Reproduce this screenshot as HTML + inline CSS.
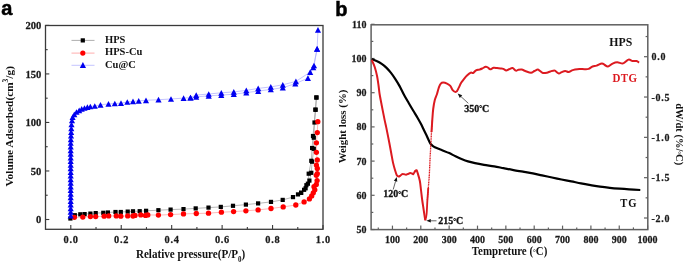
<!DOCTYPE html>
<html><head><meta charset="utf-8"><style>
html,body{margin:0;padding:0;background:#fff;width:685px;height:263px;overflow:hidden}
svg{display:block;filter:blur(0.35px)}
.t{font-family:"Liberation Serif", serif;font-weight:bold;font-size:10px;fill:#1a1a1a;stroke:#1a1a1a;stroke-width:0.25px}
.lg{font-family:"Liberation Serif", serif;font-weight:bold;font-size:10.5px;fill:#111}
.lg2{font-family:"Liberation Serif", serif;font-weight:bold;font-size:11px;fill:#111}
.an{font-family:"Liberation Serif", serif;font-weight:bold;font-size:10px;fill:#111;stroke:#111;stroke-width:0.3px}
.ti{font-family:"Liberation Serif", serif;font-weight:bold;font-size:11.3px;fill:#111}
.lab{font-family:"Liberation Sans",sans-serif;font-weight:bold;font-size:20px;fill:#000;stroke:#000;stroke-width:0.5px}
</style></head><body>
<svg width="685" height="263" viewBox="0 0 685 263">
<rect x="45.5" y="25.5" width="277.5" height="203.8" fill="none" stroke="#3a3a3a" stroke-width="1.3"/>
<line x1="45.5" y1="219.50" x2="49.3" y2="219.50" stroke="#3a3a3a" stroke-width="1.1"/>
<text x="0" y="0" transform="translate(41.3,223.20) scale(1.06,1)" text-anchor="end" class="t">0</text>
<line x1="45.5" y1="195.24" x2="47.7" y2="195.24" stroke="#3a3a3a" stroke-width="1.1"/>
<line x1="45.5" y1="170.97" x2="49.3" y2="170.97" stroke="#3a3a3a" stroke-width="1.1"/>
<text x="0" y="0" transform="translate(41.3,174.67) scale(1.06,1)" text-anchor="end" class="t">50</text>
<line x1="45.5" y1="146.71" x2="47.7" y2="146.71" stroke="#3a3a3a" stroke-width="1.1"/>
<line x1="45.5" y1="122.45" x2="49.3" y2="122.45" stroke="#3a3a3a" stroke-width="1.1"/>
<text x="0" y="0" transform="translate(41.3,126.15) scale(1.06,1)" text-anchor="end" class="t">100</text>
<line x1="45.5" y1="98.19" x2="47.7" y2="98.19" stroke="#3a3a3a" stroke-width="1.1"/>
<line x1="45.5" y1="73.92" x2="49.3" y2="73.92" stroke="#3a3a3a" stroke-width="1.1"/>
<text x="0" y="0" transform="translate(41.3,77.62) scale(1.06,1)" text-anchor="end" class="t">150</text>
<line x1="45.5" y1="49.66" x2="47.7" y2="49.66" stroke="#3a3a3a" stroke-width="1.1"/>
<line x1="45.5" y1="25.40" x2="49.3" y2="25.40" stroke="#3a3a3a" stroke-width="1.1"/>
<text x="0" y="0" transform="translate(41.3,29.10) scale(1.06,1)" text-anchor="end" class="t">200</text>
<line x1="70.80" y1="229.3" x2="70.80" y2="225.10000000000002" stroke="#3a3a3a" stroke-width="1.1"/>
<text x="0" y="0" transform="translate(71.15,243) scale(1,1.09)" text-anchor="middle" class="t" style="font-size:10.4px;letter-spacing:0.7px">0.0</text>
<line x1="96.02" y1="229.3" x2="96.02" y2="227.10000000000002" stroke="#3a3a3a" stroke-width="1.1"/>
<line x1="121.24" y1="229.3" x2="121.24" y2="225.10000000000002" stroke="#3a3a3a" stroke-width="1.1"/>
<text x="0" y="0" transform="translate(121.59,243) scale(1,1.09)" text-anchor="middle" class="t" style="font-size:10.4px;letter-spacing:0.7px">0.2</text>
<line x1="146.46" y1="229.3" x2="146.46" y2="227.10000000000002" stroke="#3a3a3a" stroke-width="1.1"/>
<line x1="171.68" y1="229.3" x2="171.68" y2="225.10000000000002" stroke="#3a3a3a" stroke-width="1.1"/>
<text x="0" y="0" transform="translate(172.03,243) scale(1,1.09)" text-anchor="middle" class="t" style="font-size:10.4px;letter-spacing:0.7px">0.4</text>
<line x1="196.90" y1="229.3" x2="196.90" y2="227.10000000000002" stroke="#3a3a3a" stroke-width="1.1"/>
<line x1="222.12" y1="229.3" x2="222.12" y2="225.10000000000002" stroke="#3a3a3a" stroke-width="1.1"/>
<text x="0" y="0" transform="translate(222.47,243) scale(1,1.09)" text-anchor="middle" class="t" style="font-size:10.4px;letter-spacing:0.7px">0.6</text>
<line x1="247.34" y1="229.3" x2="247.34" y2="227.10000000000002" stroke="#3a3a3a" stroke-width="1.1"/>
<line x1="272.56" y1="229.3" x2="272.56" y2="225.10000000000002" stroke="#3a3a3a" stroke-width="1.1"/>
<text x="0" y="0" transform="translate(272.91,243) scale(1,1.09)" text-anchor="middle" class="t" style="font-size:10.4px;letter-spacing:0.7px">0.8</text>
<line x1="297.78" y1="229.3" x2="297.78" y2="227.10000000000002" stroke="#3a3a3a" stroke-width="1.1"/>
<line x1="323.00" y1="229.3" x2="323.00" y2="225.10000000000002" stroke="#3a3a3a" stroke-width="1.1"/>
<text x="0" y="0" transform="translate(323.35,243) scale(1,1.09)" text-anchor="middle" class="t" style="font-size:10.4px;letter-spacing:0.7px">1.0</text>
<path d="M70.40,218.50 L74.80,215.20 L80.30,214.30 L84.60,214.10 L90.40,213.60 L95.70,213.10 L103.30,212.80 L107.90,212.50 L115.50,212.00 L120.80,212.00 L127.70,211.60 L133.00,211.30 L139.70,211.20 L146.10,210.80 L158.40,210.20 L170.60,209.60 L183.50,209.10 L195.70,208.40 L208.50,207.60 L220.80,206.90 L233.00,205.80 L245.90,204.60 L258.10,203.40 L271.00,201.90 L282.70,199.90 L293.00,197.10 L298.00,194.40 L301.10,192.80 L304.10,189.80 L306.40,185.20 L309.40,180.60 L311.30,172.80 L312.10,161.70 L313.80,148.80 L313.80,137.70 L314.50,122.50 L315.50,109.70 L316.40,97.50" fill="none" stroke="#999" stroke-width="0.7"/>
<path d="M316.40,97.50 L315.50,109.70 L313.00,136.00 L312.10,148.00 L311.30,160.80 L308.70,173.70 L307.90,183.70 L305.60,188.30 L301.10,192.80" fill="none" stroke="#999" stroke-width="0.7"/>
<path d="M74.40,217.30 L82.80,217.10 L90.40,216.60 L95.70,216.60 L104.10,216.20 L108.70,215.90 L116.30,215.90 L120.80,216.20 L127.70,215.90 L133.00,216.00 L135.00,215.40 L140.80,214.90 L145.50,215.40 L147.80,214.90 L158.40,215.10 L170.60,214.60 L183.50,213.90 L196.30,213.50 L208.50,213.20 L221.40,212.20 L233.60,211.60 L245.90,210.80 L258.10,209.90 L271.00,208.50 L283.20,206.90 L295.80,205.00 L304.10,201.90 L309.40,198.90 L311.70,195.90 L313.30,192.80 L314.80,189.80 L316.30,184.40 L317.10,180.60 L317.30,173.70 L317.30,168.50 L317.30,160.00 L316.40,152.30 L316.40,142.80 L317.30,132.60 L317.80,121.70" fill="none" stroke="#f99" stroke-width="0.7"/>
<path d="M70.70,215.60 L70.70,211.97 L70.70,208.34 L70.70,204.71 L70.70,201.08 L70.70,197.45 L70.70,193.82 L70.70,190.19 L70.70,186.56 L70.70,182.93 L70.70,179.30 L70.70,175.67 L70.70,172.04 L70.70,168.41 L70.70,164.78 L70.70,161.15 L70.70,157.52 L70.70,153.89 L70.70,150.26 L70.70,146.63 L70.70,143.00 L70.85,139.37 L71.00,135.74 L71.15,132.11 L71.30,128.48 L71.50,124.50 L72.00,120.50 L72.60,117.10 L74.30,114.30 L76.50,112.00 L79.20,110.30 L81.70,108.80 L84.50,108.00 L87.40,107.10 L90.30,106.50 L94.80,106.00 L100.50,104.80 L108.50,103.90 L114.80,103.50 L121.00,103.10 L127.30,102.00 L133.00,101.40 L138.70,100.80 L146.00,100.30 L158.50,99.70 L171.00,99.00 L183.60,98.10 L190.50,97.60 L196.20,96.90 L208.70,95.80 L221.30,95.10 L233.80,94.20 L246.30,92.60 L258.20,91.10 L270.80,89.40 L282.80,87.70 L295.30,83.70 L307.90,78.20 L313.30,67.50 L317.10,48.80 L318.00,29.90" fill="none" stroke="#aaf" stroke-width="0.7"/>
<path d="M190.50,97.60 L196.20,95.10 L208.70,94.00 L221.30,92.80 L233.80,91.90 L246.30,90.40 L258.20,88.40 L270.80,86.90 L282.80,84.80 L295.90,81.40 L310.20,72.10 L314.00,65.50 L317.10,48.80" fill="none" stroke="#aaf" stroke-width="0.7"/>
<rect x="68.30" y="216.40" width="4.2" height="4.2" fill="#000"/>
<rect x="72.70" y="213.10" width="4.2" height="4.2" fill="#000"/>
<rect x="78.20" y="212.20" width="4.2" height="4.2" fill="#000"/>
<rect x="82.50" y="212.00" width="4.2" height="4.2" fill="#000"/>
<rect x="88.30" y="211.50" width="4.2" height="4.2" fill="#000"/>
<rect x="93.60" y="211.00" width="4.2" height="4.2" fill="#000"/>
<rect x="101.20" y="210.70" width="4.2" height="4.2" fill="#000"/>
<rect x="105.80" y="210.40" width="4.2" height="4.2" fill="#000"/>
<rect x="113.40" y="209.90" width="4.2" height="4.2" fill="#000"/>
<rect x="118.70" y="209.90" width="4.2" height="4.2" fill="#000"/>
<rect x="125.60" y="209.50" width="4.2" height="4.2" fill="#000"/>
<rect x="130.90" y="209.20" width="4.2" height="4.2" fill="#000"/>
<rect x="137.60" y="209.10" width="4.2" height="4.2" fill="#000"/>
<rect x="144.00" y="208.70" width="4.2" height="4.2" fill="#000"/>
<rect x="156.30" y="208.10" width="4.2" height="4.2" fill="#000"/>
<rect x="168.50" y="207.50" width="4.2" height="4.2" fill="#000"/>
<rect x="181.40" y="207.00" width="4.2" height="4.2" fill="#000"/>
<rect x="193.60" y="206.30" width="4.2" height="4.2" fill="#000"/>
<rect x="206.40" y="205.50" width="4.2" height="4.2" fill="#000"/>
<rect x="218.70" y="204.80" width="4.2" height="4.2" fill="#000"/>
<rect x="230.90" y="203.70" width="4.2" height="4.2" fill="#000"/>
<rect x="243.80" y="202.50" width="4.2" height="4.2" fill="#000"/>
<rect x="256.00" y="201.30" width="4.2" height="4.2" fill="#000"/>
<rect x="268.90" y="199.80" width="4.2" height="4.2" fill="#000"/>
<rect x="280.60" y="197.80" width="4.2" height="4.2" fill="#000"/>
<rect x="290.90" y="195.00" width="4.2" height="4.2" fill="#000"/>
<rect x="295.90" y="192.30" width="4.2" height="4.2" fill="#000"/>
<rect x="299.00" y="190.70" width="4.2" height="4.2" fill="#000"/>
<rect x="302.00" y="187.70" width="4.2" height="4.2" fill="#000"/>
<rect x="304.30" y="183.10" width="4.2" height="4.2" fill="#000"/>
<rect x="307.30" y="178.50" width="4.2" height="4.2" fill="#000"/>
<rect x="309.20" y="170.70" width="4.2" height="4.2" fill="#000"/>
<rect x="310.00" y="159.60" width="4.2" height="4.2" fill="#000"/>
<rect x="311.70" y="146.70" width="4.2" height="4.2" fill="#000"/>
<rect x="311.70" y="135.60" width="4.2" height="4.2" fill="#000"/>
<rect x="312.40" y="120.40" width="4.2" height="4.2" fill="#000"/>
<rect x="313.40" y="107.60" width="4.2" height="4.2" fill="#000"/>
<rect x="314.30" y="95.40" width="4.2" height="4.2" fill="#000"/>
<rect x="314.30" y="95.40" width="4.2" height="4.2" fill="#000"/>
<rect x="313.40" y="107.60" width="4.2" height="4.2" fill="#000"/>
<rect x="310.90" y="133.90" width="4.2" height="4.2" fill="#000"/>
<rect x="310.00" y="145.90" width="4.2" height="4.2" fill="#000"/>
<rect x="309.20" y="158.70" width="4.2" height="4.2" fill="#000"/>
<rect x="306.60" y="171.60" width="4.2" height="4.2" fill="#000"/>
<rect x="305.80" y="181.60" width="4.2" height="4.2" fill="#000"/>
<rect x="303.50" y="186.20" width="4.2" height="4.2" fill="#000"/>
<rect x="299.00" y="190.70" width="4.2" height="4.2" fill="#000"/>
<circle cx="74.40" cy="217.30" r="2.65" fill="#f00"/>
<circle cx="82.80" cy="217.10" r="2.65" fill="#f00"/>
<circle cx="90.40" cy="216.60" r="2.65" fill="#f00"/>
<circle cx="95.70" cy="216.60" r="2.65" fill="#f00"/>
<circle cx="104.10" cy="216.20" r="2.65" fill="#f00"/>
<circle cx="108.70" cy="215.90" r="2.65" fill="#f00"/>
<circle cx="116.30" cy="215.90" r="2.65" fill="#f00"/>
<circle cx="120.80" cy="216.20" r="2.65" fill="#f00"/>
<circle cx="127.70" cy="215.90" r="2.65" fill="#f00"/>
<circle cx="133.00" cy="216.00" r="2.65" fill="#f00"/>
<circle cx="135.00" cy="215.40" r="2.65" fill="#f00"/>
<circle cx="140.80" cy="214.90" r="2.65" fill="#f00"/>
<circle cx="145.50" cy="215.40" r="2.65" fill="#f00"/>
<circle cx="147.80" cy="214.90" r="2.65" fill="#f00"/>
<circle cx="158.40" cy="215.10" r="2.65" fill="#f00"/>
<circle cx="170.60" cy="214.60" r="2.65" fill="#f00"/>
<circle cx="183.50" cy="213.90" r="2.65" fill="#f00"/>
<circle cx="196.30" cy="213.50" r="2.65" fill="#f00"/>
<circle cx="208.50" cy="213.20" r="2.65" fill="#f00"/>
<circle cx="221.40" cy="212.20" r="2.65" fill="#f00"/>
<circle cx="233.60" cy="211.60" r="2.65" fill="#f00"/>
<circle cx="245.90" cy="210.80" r="2.65" fill="#f00"/>
<circle cx="258.10" cy="209.90" r="2.65" fill="#f00"/>
<circle cx="271.00" cy="208.50" r="2.65" fill="#f00"/>
<circle cx="283.20" cy="206.90" r="2.65" fill="#f00"/>
<circle cx="295.80" cy="205.00" r="2.65" fill="#f00"/>
<circle cx="304.10" cy="201.90" r="2.65" fill="#f00"/>
<circle cx="309.40" cy="198.90" r="2.65" fill="#f00"/>
<circle cx="311.70" cy="195.90" r="2.65" fill="#f00"/>
<circle cx="313.30" cy="192.80" r="2.65" fill="#f00"/>
<circle cx="314.80" cy="189.80" r="2.65" fill="#f00"/>
<circle cx="316.30" cy="184.40" r="2.65" fill="#f00"/>
<circle cx="317.10" cy="180.60" r="2.65" fill="#f00"/>
<circle cx="317.30" cy="173.70" r="2.65" fill="#f00"/>
<circle cx="317.30" cy="168.50" r="2.65" fill="#f00"/>
<circle cx="317.30" cy="160.00" r="2.65" fill="#f00"/>
<circle cx="316.40" cy="152.30" r="2.65" fill="#f00"/>
<circle cx="316.40" cy="142.80" r="2.65" fill="#f00"/>
<circle cx="317.30" cy="132.60" r="2.65" fill="#f00"/>
<circle cx="317.80" cy="121.70" r="2.65" fill="#f00"/>
<circle cx="314.00" cy="186.70" r="2.65" fill="#f00"/>
<circle cx="316.30" cy="175.30" r="2.65" fill="#f00"/>
<circle cx="316.40" cy="165.10" r="2.65" fill="#f00"/>
<path d="M70.70,212.73 L73.75,218.47 L67.65,218.47Z" fill="#0000f0"/>
<path d="M70.70,209.10 L73.75,214.84 L67.65,214.84Z" fill="#0000f0"/>
<path d="M70.70,205.47 L73.75,211.21 L67.65,211.21Z" fill="#0000f0"/>
<path d="M70.70,201.84 L73.75,207.58 L67.65,207.58Z" fill="#0000f0"/>
<path d="M70.70,198.21 L73.75,203.95 L67.65,203.95Z" fill="#0000f0"/>
<path d="M70.70,194.58 L73.75,200.32 L67.65,200.32Z" fill="#0000f0"/>
<path d="M70.70,190.95 L73.75,196.69 L67.65,196.69Z" fill="#0000f0"/>
<path d="M70.70,187.32 L73.75,193.06 L67.65,193.06Z" fill="#0000f0"/>
<path d="M70.70,183.69 L73.75,189.43 L67.65,189.43Z" fill="#0000f0"/>
<path d="M70.70,180.06 L73.75,185.80 L67.65,185.80Z" fill="#0000f0"/>
<path d="M70.70,176.43 L73.75,182.17 L67.65,182.17Z" fill="#0000f0"/>
<path d="M70.70,172.80 L73.75,178.54 L67.65,178.54Z" fill="#0000f0"/>
<path d="M70.70,169.17 L73.75,174.91 L67.65,174.91Z" fill="#0000f0"/>
<path d="M70.70,165.54 L73.75,171.28 L67.65,171.28Z" fill="#0000f0"/>
<path d="M70.70,161.91 L73.75,167.65 L67.65,167.65Z" fill="#0000f0"/>
<path d="M70.70,158.28 L73.75,164.02 L67.65,164.02Z" fill="#0000f0"/>
<path d="M70.70,154.65 L73.75,160.39 L67.65,160.39Z" fill="#0000f0"/>
<path d="M70.70,151.02 L73.75,156.76 L67.65,156.76Z" fill="#0000f0"/>
<path d="M70.70,147.39 L73.75,153.13 L67.65,153.13Z" fill="#0000f0"/>
<path d="M70.70,143.76 L73.75,149.50 L67.65,149.50Z" fill="#0000f0"/>
<path d="M70.70,140.13 L73.75,145.87 L67.65,145.87Z" fill="#0000f0"/>
<path d="M70.85,136.50 L73.90,142.24 L67.80,142.24Z" fill="#0000f0"/>
<path d="M71.00,132.87 L74.05,138.61 L67.95,138.61Z" fill="#0000f0"/>
<path d="M71.15,129.24 L74.20,134.98 L68.10,134.98Z" fill="#0000f0"/>
<path d="M71.30,125.61 L74.35,131.35 L68.25,131.35Z" fill="#0000f0"/>
<path d="M71.50,121.63 L74.55,127.37 L68.45,127.37Z" fill="#0000f0"/>
<path d="M72.00,117.63 L75.05,123.37 L68.95,123.37Z" fill="#0000f0"/>
<path d="M72.60,114.23 L75.65,119.97 L69.55,119.97Z" fill="#0000f0"/>
<path d="M74.30,111.43 L77.35,117.17 L71.25,117.17Z" fill="#0000f0"/>
<path d="M76.50,109.13 L79.55,114.87 L73.45,114.87Z" fill="#0000f0"/>
<path d="M79.20,107.43 L82.25,113.17 L76.15,113.17Z" fill="#0000f0"/>
<path d="M81.70,105.93 L84.75,111.67 L78.65,111.67Z" fill="#0000f0"/>
<path d="M84.50,105.13 L87.55,110.87 L81.45,110.87Z" fill="#0000f0"/>
<path d="M87.40,104.23 L90.45,109.97 L84.35,109.97Z" fill="#0000f0"/>
<path d="M90.30,103.63 L93.35,109.37 L87.25,109.37Z" fill="#0000f0"/>
<path d="M94.80,103.13 L97.85,108.87 L91.75,108.87Z" fill="#0000f0"/>
<path d="M100.50,101.93 L103.55,107.67 L97.45,107.67Z" fill="#0000f0"/>
<path d="M108.50,101.03 L111.55,106.77 L105.45,106.77Z" fill="#0000f0"/>
<path d="M114.80,100.63 L117.85,106.37 L111.75,106.37Z" fill="#0000f0"/>
<path d="M121.00,100.23 L124.05,105.97 L117.95,105.97Z" fill="#0000f0"/>
<path d="M127.30,99.13 L130.35,104.87 L124.25,104.87Z" fill="#0000f0"/>
<path d="M133.00,98.53 L136.05,104.27 L129.95,104.27Z" fill="#0000f0"/>
<path d="M138.70,97.93 L141.75,103.67 L135.65,103.67Z" fill="#0000f0"/>
<path d="M146.00,97.43 L149.05,103.17 L142.95,103.17Z" fill="#0000f0"/>
<path d="M158.50,96.83 L161.55,102.57 L155.45,102.57Z" fill="#0000f0"/>
<path d="M171.00,96.13 L174.05,101.87 L167.95,101.87Z" fill="#0000f0"/>
<path d="M183.60,95.23 L186.65,100.97 L180.55,100.97Z" fill="#0000f0"/>
<path d="M190.50,94.73 L193.55,100.47 L187.45,100.47Z" fill="#0000f0"/>
<path d="M196.20,94.03 L199.25,99.77 L193.15,99.77Z" fill="#0000f0"/>
<path d="M208.70,92.93 L211.75,98.67 L205.65,98.67Z" fill="#0000f0"/>
<path d="M221.30,92.23 L224.35,97.97 L218.25,97.97Z" fill="#0000f0"/>
<path d="M233.80,91.33 L236.85,97.07 L230.75,97.07Z" fill="#0000f0"/>
<path d="M246.30,89.73 L249.35,95.47 L243.25,95.47Z" fill="#0000f0"/>
<path d="M258.20,88.23 L261.25,93.97 L255.15,93.97Z" fill="#0000f0"/>
<path d="M270.80,86.53 L273.85,92.27 L267.75,92.27Z" fill="#0000f0"/>
<path d="M282.80,84.83 L285.85,90.57 L279.75,90.57Z" fill="#0000f0"/>
<path d="M295.30,80.83 L298.35,86.57 L292.25,86.57Z" fill="#0000f0"/>
<path d="M307.90,75.33 L310.95,81.07 L304.85,81.07Z" fill="#0000f0"/>
<path d="M313.30,64.63 L316.35,70.37 L310.25,70.37Z" fill="#0000f0"/>
<path d="M317.10,45.93 L320.15,51.67 L314.05,51.67Z" fill="#0000f0"/>
<path d="M318.00,27.03 L321.05,32.77 L314.95,32.77Z" fill="#0000f0"/>
<path d="M190.50,94.73 L193.55,100.47 L187.45,100.47Z" fill="#0000f0"/>
<path d="M196.20,92.23 L199.25,97.97 L193.15,97.97Z" fill="#0000f0"/>
<path d="M208.70,91.13 L211.75,96.87 L205.65,96.87Z" fill="#0000f0"/>
<path d="M221.30,89.93 L224.35,95.67 L218.25,95.67Z" fill="#0000f0"/>
<path d="M233.80,89.03 L236.85,94.77 L230.75,94.77Z" fill="#0000f0"/>
<path d="M246.30,87.53 L249.35,93.27 L243.25,93.27Z" fill="#0000f0"/>
<path d="M258.20,85.53 L261.25,91.27 L255.15,91.27Z" fill="#0000f0"/>
<path d="M270.80,84.03 L273.85,89.77 L267.75,89.77Z" fill="#0000f0"/>
<path d="M282.80,81.93 L285.85,87.67 L279.75,87.67Z" fill="#0000f0"/>
<path d="M295.90,78.53 L298.95,84.27 L292.85,84.27Z" fill="#0000f0"/>
<path d="M310.20,69.23 L313.25,74.97 L307.15,74.97Z" fill="#0000f0"/>
<path d="M314.00,62.63 L317.05,68.37 L310.95,68.37Z" fill="#0000f0"/>
<path d="M317.10,45.93 L320.15,51.67 L314.05,51.67Z" fill="#0000f0"/>
<line x1="71.5" y1="40.4" x2="94.5" y2="40.4" stroke="#999" stroke-width="0.8"/>
<rect x="80.70" y="38.30" width="4.2" height="4.2" fill="#000"/>
<line x1="71.5" y1="53.1" x2="94.5" y2="53.1" stroke="#f99" stroke-width="0.8"/>
<circle cx="82.80" cy="53.10" r="2.6" fill="#f00"/>
<line x1="71.5" y1="65.3" x2="94.5" y2="65.3" stroke="#aaf" stroke-width="0.7"/>
<path d="M82.90,62.09 L86.00,67.91 L79.80,67.91Z" fill="#0000f0"/>
<text x="105" y="43.3" class="lg">HPS</text>
<text x="105" y="55.4" class="lg">HPS-Cu</text>
<text x="105" y="67.9" class="lg">Cu@C</text>
<text x="0" y="0" transform="translate(12.6,126.3) rotate(-90)" text-anchor="middle" class="ti">Volume Adsorbed(cm<tspan dy="-5" font-size="7.5">3</tspan><tspan dy="5">/g)</tspan></text>
<text x="0" y="0" transform="translate(190.6,257.9) scale(1,1.1)" text-anchor="middle" class="ti" style="font-size:11.1px">Relative pressure(P/P<tspan dy="3.8" font-size="7">0</tspan><tspan dy="-3.8">)</tspan></text>
<text x="1.3" y="15.2" class="lab">a</text>
<rect x="371.1" y="24.8" width="276.69999999999993" height="204.79999999999998" fill="none" stroke="#606060" stroke-width="1.5"/>
<line x1="371.1" y1="229.50" x2="374.6" y2="229.50" stroke="#606060" stroke-width="1.2"/>
<text x="0" y="0" transform="translate(366.5,233.00) scale(1,1.09)" text-anchor="end" class="t">50</text>
<line x1="371.1" y1="212.40" x2="373.3" y2="212.40" stroke="#606060" stroke-width="1.2"/>
<line x1="371.1" y1="195.30" x2="374.6" y2="195.30" stroke="#606060" stroke-width="1.2"/>
<text x="0" y="0" transform="translate(366.5,198.80) scale(1,1.09)" text-anchor="end" class="t">60</text>
<line x1="371.1" y1="178.20" x2="373.3" y2="178.20" stroke="#606060" stroke-width="1.2"/>
<line x1="371.1" y1="161.10" x2="374.6" y2="161.10" stroke="#606060" stroke-width="1.2"/>
<text x="0" y="0" transform="translate(366.5,164.60) scale(1,1.09)" text-anchor="end" class="t">70</text>
<line x1="371.1" y1="144.00" x2="373.3" y2="144.00" stroke="#606060" stroke-width="1.2"/>
<line x1="371.1" y1="126.90" x2="374.6" y2="126.90" stroke="#606060" stroke-width="1.2"/>
<text x="0" y="0" transform="translate(366.5,130.40) scale(1,1.09)" text-anchor="end" class="t">80</text>
<line x1="371.1" y1="109.80" x2="373.3" y2="109.80" stroke="#606060" stroke-width="1.2"/>
<line x1="371.1" y1="92.70" x2="374.6" y2="92.70" stroke="#606060" stroke-width="1.2"/>
<text x="0" y="0" transform="translate(366.5,96.20) scale(1,1.09)" text-anchor="end" class="t">90</text>
<line x1="371.1" y1="75.60" x2="373.3" y2="75.60" stroke="#606060" stroke-width="1.2"/>
<line x1="371.1" y1="58.50" x2="374.6" y2="58.50" stroke="#606060" stroke-width="1.2"/>
<text x="0" y="0" transform="translate(366.5,62.00) scale(1,1.09)" text-anchor="end" class="t">100</text>
<line x1="371.1" y1="41.40" x2="373.3" y2="41.40" stroke="#606060" stroke-width="1.2"/>
<line x1="371.1" y1="24.30" x2="374.6" y2="24.30" stroke="#606060" stroke-width="1.2"/>
<text x="0" y="0" transform="translate(366.5,27.80) scale(1,1.09)" text-anchor="end" class="t">110</text>
<line x1="378.28" y1="229.6" x2="378.28" y2="227.4" stroke="#606060" stroke-width="1.2"/>
<line x1="392.45" y1="229.6" x2="392.45" y2="225.6" stroke="#606060" stroke-width="1.2"/>
<text x="0" y="0" transform="translate(392.45,242.5) scale(1,1.09)" text-anchor="middle" class="t">100</text>
<line x1="406.62" y1="229.6" x2="406.62" y2="227.4" stroke="#606060" stroke-width="1.2"/>
<line x1="420.80" y1="229.6" x2="420.80" y2="225.6" stroke="#606060" stroke-width="1.2"/>
<text x="0" y="0" transform="translate(420.80,242.5) scale(1,1.09)" text-anchor="middle" class="t">200</text>
<line x1="434.98" y1="229.6" x2="434.98" y2="227.4" stroke="#606060" stroke-width="1.2"/>
<line x1="449.15" y1="229.6" x2="449.15" y2="225.6" stroke="#606060" stroke-width="1.2"/>
<text x="0" y="0" transform="translate(449.15,242.5) scale(1,1.09)" text-anchor="middle" class="t">300</text>
<line x1="463.33" y1="229.6" x2="463.33" y2="227.4" stroke="#606060" stroke-width="1.2"/>
<line x1="477.50" y1="229.6" x2="477.50" y2="225.6" stroke="#606060" stroke-width="1.2"/>
<text x="0" y="0" transform="translate(477.50,242.5) scale(1,1.09)" text-anchor="middle" class="t">400</text>
<line x1="491.68" y1="229.6" x2="491.68" y2="227.4" stroke="#606060" stroke-width="1.2"/>
<line x1="505.85" y1="229.6" x2="505.85" y2="225.6" stroke="#606060" stroke-width="1.2"/>
<text x="0" y="0" transform="translate(505.85,242.5) scale(1,1.09)" text-anchor="middle" class="t">500</text>
<line x1="520.02" y1="229.6" x2="520.02" y2="227.4" stroke="#606060" stroke-width="1.2"/>
<line x1="534.20" y1="229.6" x2="534.20" y2="225.6" stroke="#606060" stroke-width="1.2"/>
<text x="0" y="0" transform="translate(534.20,242.5) scale(1,1.09)" text-anchor="middle" class="t">600</text>
<line x1="548.38" y1="229.6" x2="548.38" y2="227.4" stroke="#606060" stroke-width="1.2"/>
<line x1="562.55" y1="229.6" x2="562.55" y2="225.6" stroke="#606060" stroke-width="1.2"/>
<text x="0" y="0" transform="translate(562.55,242.5) scale(1,1.09)" text-anchor="middle" class="t">700</text>
<line x1="576.73" y1="229.6" x2="576.73" y2="227.4" stroke="#606060" stroke-width="1.2"/>
<line x1="590.90" y1="229.6" x2="590.90" y2="225.6" stroke="#606060" stroke-width="1.2"/>
<text x="0" y="0" transform="translate(590.90,242.5) scale(1,1.09)" text-anchor="middle" class="t">800</text>
<line x1="605.08" y1="229.6" x2="605.08" y2="227.4" stroke="#606060" stroke-width="1.2"/>
<line x1="619.25" y1="229.6" x2="619.25" y2="225.6" stroke="#606060" stroke-width="1.2"/>
<text x="0" y="0" transform="translate(619.25,242.5) scale(1,1.09)" text-anchor="middle" class="t">900</text>
<line x1="633.42" y1="229.6" x2="633.42" y2="227.4" stroke="#606060" stroke-width="1.2"/>
<line x1="647.60" y1="229.6" x2="647.60" y2="225.6" stroke="#606060" stroke-width="1.2"/>
<text x="0" y="0" transform="translate(647.60,242.5) scale(1,1.09)" text-anchor="middle" class="t">1000</text>
<line x1="647.8" y1="218.00" x2="644.0" y2="218.00" stroke="#606060" stroke-width="1.2"/>
<text x="0" y="0" transform="translate(651.5,221.50) scale(1,1.09)" class="t" style="letter-spacing:0.7px">-2.0</text>
<line x1="647.8" y1="197.84" x2="645.5999999999999" y2="197.84" stroke="#606060" stroke-width="1.2"/>
<line x1="647.8" y1="177.68" x2="644.0" y2="177.68" stroke="#606060" stroke-width="1.2"/>
<text x="0" y="0" transform="translate(651.5,181.18) scale(1,1.09)" class="t" style="letter-spacing:0.7px">-1.5</text>
<line x1="647.8" y1="157.51" x2="645.5999999999999" y2="157.51" stroke="#606060" stroke-width="1.2"/>
<line x1="647.8" y1="137.35" x2="644.0" y2="137.35" stroke="#606060" stroke-width="1.2"/>
<text x="0" y="0" transform="translate(651.5,140.85) scale(1,1.09)" class="t" style="letter-spacing:0.7px">-1.0</text>
<line x1="647.8" y1="117.19" x2="645.5999999999999" y2="117.19" stroke="#606060" stroke-width="1.2"/>
<line x1="647.8" y1="97.03" x2="644.0" y2="97.03" stroke="#606060" stroke-width="1.2"/>
<text x="0" y="0" transform="translate(651.5,100.53) scale(1,1.09)" class="t" style="letter-spacing:0.7px">-0.5</text>
<line x1="647.8" y1="76.86" x2="645.5999999999999" y2="76.86" stroke="#606060" stroke-width="1.2"/>
<line x1="647.8" y1="56.70" x2="644.0" y2="56.70" stroke="#606060" stroke-width="1.2"/>
<text x="0" y="0" transform="translate(651.5,60.20) scale(1,1.09)" class="t" style="letter-spacing:0.7px">0.0</text>
<line x1="647.8" y1="36.54" x2="645.5999999999999" y2="36.54" stroke="#606060" stroke-width="1.2"/>
<path d="M371.70,59.10 C372.60,59.45 375.43,60.42 377.10,61.20 C378.77,61.98 380.17,62.73 381.70,63.80 C383.23,64.87 384.78,66.13 386.30,67.60 C387.82,69.07 389.32,70.73 390.80,72.60 C392.28,74.47 393.73,76.55 395.20,78.80 C396.67,81.05 398.12,83.42 399.60,86.10 C401.08,88.78 402.58,92.08 404.10,94.90 C405.62,97.72 407.17,100.35 408.70,103.00 C410.23,105.65 411.78,108.27 413.30,110.80 C414.82,113.33 416.47,115.90 417.80,118.20 C419.13,120.50 420.27,122.58 421.30,124.60 C422.33,126.62 423.10,128.45 424.00,130.30 C424.90,132.15 425.92,134.03 426.70,135.70 C427.48,137.37 428.03,138.92 428.70,140.30 C429.37,141.68 429.93,143.00 430.70,144.00 C431.47,145.00 432.20,145.58 433.30,146.30 C434.40,147.02 435.75,147.62 437.30,148.30 C438.85,148.98 440.60,149.60 442.60,150.40 C444.60,151.20 447.15,152.12 449.30,153.10 C451.45,154.08 453.37,155.27 455.50,156.30 C457.63,157.33 460.02,158.45 462.10,159.30 C464.18,160.15 465.85,160.77 468.00,161.40 C470.15,162.03 472.33,162.53 475.00,163.10 C477.67,163.67 480.80,164.25 484.00,164.80 C487.20,165.35 490.95,165.83 494.20,166.40 C497.45,166.97 500.28,167.58 503.50,168.20 C506.72,168.82 510.25,169.52 513.50,170.10 C516.75,170.68 519.78,171.15 523.00,171.70 C526.22,172.25 529.63,172.78 532.80,173.40 C535.97,174.02 538.80,174.72 542.00,175.40 C545.20,176.08 548.75,176.82 552.00,177.50 C555.25,178.18 558.28,178.85 561.50,179.50 C564.72,180.15 568.05,180.75 571.30,181.40 C574.55,182.05 577.78,182.78 581.00,183.40 C584.22,184.02 587.43,184.57 590.60,185.10 C593.77,185.63 596.80,186.15 600.00,186.60 C603.20,187.05 606.55,187.45 609.80,187.80 C613.05,188.15 616.28,188.43 619.50,188.70 C622.72,188.97 625.63,189.18 629.10,189.40 C632.57,189.62 638.43,189.90 640.30,190.00" fill="none" stroke="#000" stroke-width="2.2" stroke-linejoin="round"/>
<path d="M371.70,60.00 C372.22,61.20 373.90,64.48 374.80,67.20 C375.70,69.92 376.47,73.17 377.10,76.30 C377.73,79.43 378.18,83.05 378.60,86.00 C379.02,88.95 379.08,90.80 379.60,94.00 C380.12,97.20 380.85,100.80 381.70,105.20 C382.55,109.60 383.93,116.67 384.70,120.40 C385.47,124.13 385.53,123.87 386.30,127.60 C387.07,131.33 388.48,138.57 389.30,142.80 C390.12,147.03 390.58,149.70 391.20,153.00 C391.82,156.30 392.37,159.77 393.00,162.60 C393.63,165.43 394.37,167.88 395.00,170.00 C395.63,172.12 396.18,174.22 396.80,175.30 C397.42,176.38 398.08,176.47 398.70,176.50 C399.32,176.53 399.90,175.90 400.50,175.50 C401.10,175.10 401.72,174.32 402.30,174.10 C402.88,173.88 403.38,174.10 404.00,174.20 C404.62,174.30 405.33,174.73 406.00,174.70 C406.67,174.67 407.30,174.30 408.00,174.00 C408.70,173.70 409.53,172.98 410.20,172.90 C410.87,172.82 411.48,173.30 412.00,173.50 C412.52,173.70 412.77,174.52 413.30,174.10 C413.83,173.68 414.67,171.65 415.20,171.00 C415.73,170.35 416.12,169.95 416.50,170.20 C416.88,170.45 416.95,170.73 417.50,172.50 C418.05,174.27 419.22,177.88 419.80,180.80 C420.38,183.72 420.60,186.80 421.00,190.00 C421.40,193.20 421.80,197.00 422.20,200.00 C422.60,203.00 423.00,205.33 423.40,208.00 C423.80,210.67 424.28,213.95 424.60,216.00 C424.92,218.05 425.18,219.58 425.30,220.30" fill="none" stroke="#dc1a20" stroke-width="2" stroke-linejoin="round"/>
<path d="M425.30,220.30 C425.52,219.25 426.25,217.38 426.60,214.00 C426.95,210.62 427.12,204.33 427.40,200.00 C427.68,195.67 428.15,190.00 428.30,188.00" fill="none" stroke="#dc1a20" stroke-width="1.8" stroke-linejoin="round"/>
<path d="M427.40,200.00 C427.55,198.00 427.98,192.17 428.30,188.00 C428.62,183.83 429.02,179.67 429.30,175.00 C429.58,170.33 429.75,165.00 430.00,160.00 C430.25,155.00 430.55,149.67 430.80,145.00 C431.05,140.33 431.25,136.17 431.50,132.00 C431.75,127.83 432.17,122.00 432.30,120.00" fill="none" stroke="#dc1a20" stroke-width="1.3" stroke-dasharray="1.2 0.5" stroke-linejoin="round"/>
<path d="M431.50,132.00 C431.63,130.00 432.02,123.83 432.30,120.00 C432.58,116.17 432.78,112.33 433.20,109.00 C433.62,105.67 434.17,102.50 434.80,100.00 C435.43,97.50 436.32,96.10 437.00,94.00 C437.68,91.90 438.27,89.13 438.90,87.40 C439.53,85.67 440.08,84.40 440.80,83.60 C441.52,82.80 442.17,82.60 443.20,82.60 C444.23,82.60 445.82,83.05 447.00,83.60 C448.18,84.15 449.35,84.80 450.30,85.90 C451.25,87.00 451.90,89.20 452.70,90.20 C453.50,91.20 454.38,91.73 455.10,91.90 C455.82,92.07 456.37,91.95 457.00,91.20 C457.63,90.45 458.18,88.83 458.90,87.40 C459.62,85.97 460.43,84.03 461.30,82.60 C462.17,81.17 463.15,79.98 464.10,78.80 C465.05,77.62 465.88,76.52 467.00,75.50 C468.12,74.48 469.78,73.12 470.80,72.70 C471.82,72.28 472.23,73.38 473.10,73.00 C473.97,72.62 474.95,70.97 476.00,70.40 C477.05,69.83 478.37,69.92 479.40,69.60 C480.43,69.28 481.15,68.98 482.20,68.50 C483.25,68.02 484.75,66.87 485.70,66.70 C486.65,66.53 487.15,67.07 487.90,67.50 C488.65,67.93 489.25,69.25 490.20,69.30 C491.15,69.35 492.45,68.00 493.60,67.80 C494.75,67.60 495.95,67.98 497.10,68.10 C498.25,68.22 499.47,68.37 500.50,68.50 C501.53,68.63 502.35,68.58 503.30,68.90 C504.25,69.22 505.25,70.33 506.20,70.40 C507.15,70.47 507.95,69.68 509.00,69.30 C510.05,68.92 511.35,67.88 512.50,68.10 C513.65,68.32 514.92,70.32 515.90,70.60 C516.88,70.88 517.42,69.97 518.40,69.80 C519.38,69.63 520.65,69.40 521.80,69.60 C522.95,69.80 523.77,70.48 525.30,71.00 C526.83,71.52 529.48,72.70 531.00,72.70 C532.52,72.70 533.27,71.52 534.40,71.00 C535.53,70.48 536.85,69.60 537.80,69.60 C538.75,69.60 539.23,70.43 540.10,71.00 C540.97,71.57 541.87,72.72 543.00,73.00 C544.13,73.28 545.68,72.95 546.90,72.70 C548.12,72.45 549.07,71.88 550.30,71.50 C551.53,71.12 553.35,70.40 554.30,70.40 C555.25,70.40 555.23,70.98 556.00,71.50 C556.77,72.02 557.95,73.40 558.90,73.50 C559.85,73.60 560.65,72.52 561.70,72.10 C562.75,71.68 564.05,71.03 565.20,71.00 C566.35,70.97 567.47,72.00 568.60,71.90 C569.73,71.80 570.93,70.80 572.00,70.40 C573.07,70.00 573.78,69.75 575.00,69.50 C576.22,69.25 577.70,68.95 579.30,68.90 C580.90,68.85 583.05,69.20 584.60,69.20 C586.15,69.20 587.27,69.35 588.60,68.90 C589.93,68.45 591.27,67.05 592.60,66.50 C593.93,65.95 595.05,66.12 596.60,65.60 C598.15,65.08 600.53,63.50 601.90,63.40 C603.27,63.30 603.80,64.48 604.80,65.00 C605.80,65.52 606.60,66.73 607.90,66.50 C609.20,66.27 611.05,64.30 612.60,63.60 C614.15,62.90 615.43,62.33 617.20,62.30 C618.97,62.27 621.32,63.85 623.20,63.40 C625.08,62.95 626.95,60.00 628.50,59.60 C630.05,59.20 631.17,60.77 632.50,61.00 C633.83,61.23 635.40,60.73 636.50,61.00 C637.60,61.27 638.67,62.33 639.10,62.60" fill="none" stroke="#dc1a20" stroke-width="2" stroke-linejoin="round"/>
<line x1="468.3" y1="103.3" x2="461.02" y2="96.64" stroke="#222" stroke-width="0.7"/><path d="M457.7,93.6 L462.23,95.31 L459.80,97.97Z" fill="#111"/>
<line x1="393.2" y1="189.5" x2="395.55" y2="181.32" stroke="#222" stroke-width="0.7"/><path d="M396.8,177.0 L397.28,181.82 L393.82,180.83Z" fill="#111"/>
<line x1="436.5" y1="220.8" x2="430.80" y2="220.80" stroke="#222" stroke-width="0.7"/><path d="M426.3,220.8 L430.80,219.00 L430.80,222.60Z" fill="#111"/>
<text x="0" y="0" transform="translate(464.3,111.8) scale(1,1.09)" class="an">350<tspan font-size="7" dy="-0.4">°</tspan><tspan dy="0.4">C</tspan></text>
<text x="0" y="0" transform="translate(383.3,197.4) scale(1,1.09)" class="an">120<tspan font-size="7" dy="-0.4">°</tspan><tspan dy="0.4">C</tspan></text>
<text x="0" y="0" transform="translate(438.3,224.2) scale(1,1.09)" class="an">215<tspan font-size="7" dy="-0.4">°</tspan><tspan dy="0.4">C</tspan></text>
<text x="0" y="0" transform="translate(609.3,45.6) scale(1,1.09)" class="lg2" style="font-size:11.8px">HPS</text>
<text x="0" y="0" transform="translate(612.6,82.2) scale(1,1.09)" class="lg2" style="fill:#dc1a20;letter-spacing:0.3px">DTG</text>
<text x="0" y="0" transform="translate(620.3,206.5) scale(0.93,1.09)" class="lg2" style="font-size:11.4px;letter-spacing:1.0px">TG</text>
<text x="0" y="0" transform="translate(346.3,126.45) rotate(-90)" text-anchor="middle" class="ti" style="font-size:10.9px">Weight loss (%)</text>
<text x="0" y="0" transform="translate(675.6,134.2) rotate(90)" text-anchor="middle" class="ti" style="font-size:10.5px">dW/dt (%/<tspan font-size="7" dy="-0.4">°</tspan><tspan dy="0.4">C)</tspan></text>
<text x="0" y="0" transform="translate(509.6,255.0) scale(1,1.09)" text-anchor="middle" class="ti" style="font-size:10.9px">Tempreture (<tspan font-size="7" dy="-0.4">°</tspan><tspan dy="0.4">C)</tspan></text>
<text x="335.2" y="15.9" class="lab">b</text>
</svg>
</body></html>
